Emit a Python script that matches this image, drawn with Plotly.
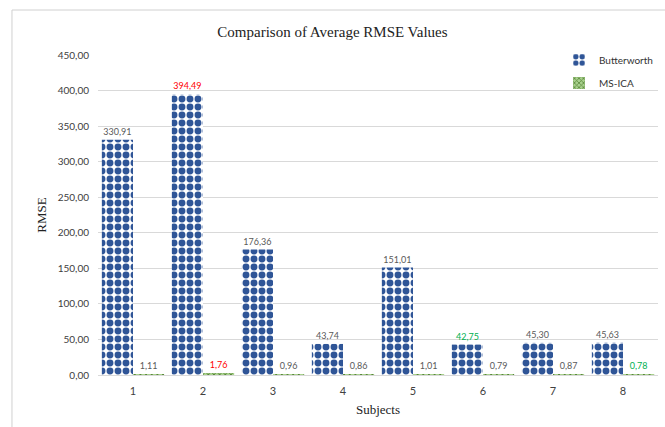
import plotly.graph_objects as go

subjects = ["1", "2", "3", "4", "5", "6", "7", "8"]
butterworth = [330.91, 394.49, 176.36, 43.74, 151.01, 42.75, 45.30, 45.63]
ms_ica = [1.11, 1.76, 0.96, 0.86, 1.01, 0.79, 0.87, 0.78]
y_ticks = [0, 50, 100, 150, 200, 250, 300, 350, 400, 450]

GRAY = "#595959"
RED = "#FF0000"
GREEN = "#00B050"
bw_label_colors = [GRAY, RED, GRAY, GRAY, GRAY, GREEN, GRAY, GRAY]
ica_label_colors = [GRAY, RED, GRAY, GRAY, GRAY, GRAY, GRAY, GREEN]
SANS = "Lato, Open Sans, sans-serif"
SERIF = "Liberation Serif, serif"


def fmt(v):
    return f"{v:.2f}".replace(".", ",")


fig = go.Figure()
fig.add_trace(go.Bar(
    name="Butterworth", x=subjects, y=butterworth, legendgroup="bw",
    marker=dict(color="white", line=dict(width=0),
                pattern=dict(shape=".", fgcolor="#2F5597", bgcolor="white",
                             fgopacity=1, size=8, solidity=0.58)),
    text=[fmt(v) for v in butterworth], textposition="outside",
    textfont=dict(family=SANS, size=9, color=bw_label_colors),
    cliponaxis=False,
))
fig.add_trace(go.Bar(
    name="MS-ICA", x=subjects, y=ms_ica, legendgroup="ica",
    marker=dict(color="#70AD47", line=dict(width=0),
                pattern=dict(shape="x", fgcolor="#548235", bgcolor="#A9D18E",
                             fgopacity=1, size=4, solidity=0.4)),
    text=[fmt(v) for v in ms_ica], textposition="outside",
    textfont=dict(family=SANS, size=9, color=ica_label_colors),
    cliponaxis=False,
))

fig.update_layout(
    width=665, height=427,
    margin=dict(l=98, r=7, t=55, b=52, autoexpand=False),
    paper_bgcolor="white", plot_bgcolor="white",
    separators=",.",
    barmode="group", bargap=0.11, bargroupgap=0,
    title=dict(text="Comparison of Average RMSE Values", x=0.5, xanchor="center",
               y=0.925, yanchor="middle",
               font=dict(family=SERIF, size=15, color="#222222")),
    legend=dict(x=1.0, y=1.03, xanchor="right", yanchor="top",
                font=dict(family=SANS, size=10, color="#333333"),
                bgcolor="rgba(0,0,0,0)", itemwidth=30, tracegroupgap=4),
    showlegend=True,
    xaxis=dict(
        title=dict(text="Subjects", standoff=8,
                   font=dict(family=SERIF, size=13, color="#222222")),
        tickfont=dict(family=SANS, size=11, color="#404040"),
        ticklabelstandoff=6, automargin=False,
        showline=True, linecolor="#D9D9D9", linewidth=1, ticks="",
    ),
    yaxis=dict(
        title=dict(text="RMSE", standoff=8,
                   font=dict(family=SERIF, size=13, color="#222222")),
        range=[0, 450], tickvals=y_ticks, tickformat=".2f",
        tickfont=dict(family=SANS, size=10, color="#404040"),
        ticklabelstandoff=8, automargin=False,
        showgrid=True, gridcolor="#D9D9D9", gridwidth=1,
        zeroline=False, showline=False, ticks="",
    ),
    shapes=[dict(type="rect", xref="paper", yref="paper",
                 x0=-0.1536, x1=1.2, y0=-0.3, y1=1.1406,
                 line=dict(color="#D0D0D0", width=1), fillcolor="rgba(0,0,0,0)",
                 layer="below")],
)

fig.write_html("out.html")
